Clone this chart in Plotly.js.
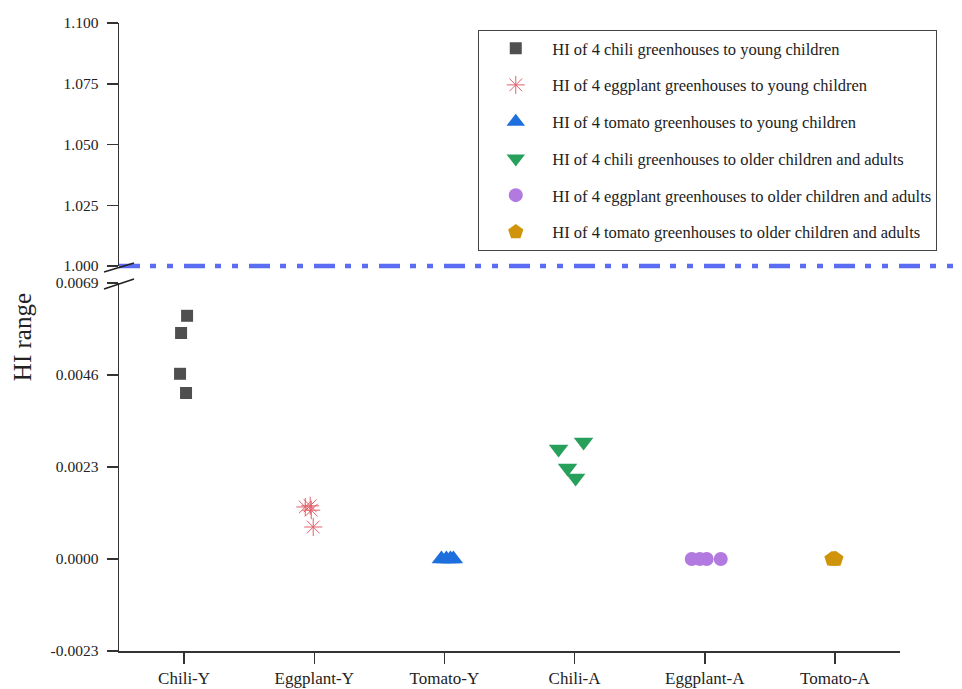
<!DOCTYPE html>
<html>
<head>
<meta charset="utf-8">
<script src="https://cdn.plot.ly/plotly-3.0.1.min.js"></script>
<style>html,body{margin:0;padding:0;background:#fff;}#chart{width:962px;height:689px;}</style>
</head>
<body>
<div id="chart"></div>
<script>
// Categories and tick labels
const categories = ['Chili-Y', 'Eggplant-Y', 'Tomato-Y', 'Chili-A', 'Eggplant-A', 'Tomato-A'];
const lowTickVals = [-0.0023, 0, 0.0023, 0.0046, 0.0069];
const lowTickText = ['-0.0023', '0.0000', '0.0023', '0.0046', '0.0069'];
const highTickVals = [1.000, 1.025, 1.050, 1.075, 1.100];
const thresholdHI = 1.0;

// HI values (4 greenhouses each) and horizontal scatter offsets within a category
const chiliY = [0.00608, 0.00565, 0.00463, 0.00415];
const chiliYOffset = [0.023, -0.023, -0.031, 0.015];
const eggplantY = [0.00133, 0.00130, 0.00122, 0.00080];
const eggplantYOffset = [-0.031, -0.069, -0.023, -0.008];
const tomatoY = [0.0, 0.0, 0.0, 0.0];
const tomatoYOffset = [-0.023, 0.015, 0.046, 0.069];
const chiliA = [0.002925, 0.00275, 0.002275, 0.002025];
const chiliAOffset = [0.069, -0.123, -0.054, 0.008];
const eggplantA = [0.0, 0.0, 0.0, 0.0];
const eggplantAOffset = [-0.1, -0.038, 0.015, 0.123];
const tomatoA = [0.0, 0.0, 0.0, 0.0];
const tomatoAOffset = [-0.023, -0.008, 0.0, 0.008];

const seriesNames = [
  'HI of 4 chili greenhouses to young children',
  'HI of 4 eggplant greenhouses to young children',
  'HI of 4 tomato greenhouses to young children',
  'HI of 4 chili greenhouses to older children and adults',
  'HI of 4 eggplant greenhouses to older children and adults',
  'HI of 4 tomato greenhouses to older children and adults'
];

const seriesData = [chiliY, eggplantY, tomatoY, chiliA, eggplantA, tomatoA];
const seriesOffsets = [chiliYOffset, eggplantYOffset, tomatoYOffset, chiliAOffset, eggplantAOffset, tomatoAOffset];
const styles = [
  {symbol: 'square', color: '#4f4f4f', size: 12},
  {symbol: 'asterisk-open', color: '#e0606a', size: 15},
  {symbol: 'triangle-up', color: '#1c6fdc', size: 17},
  {symbol: 'triangle-down', color: '#27a05c', size: 17},
  {symbol: 'circle', color: '#b27ae0', size: 14},
  {symbol: 'pentagon', color: '#cf940a', size: 16}
];

const traces = seriesData.map((vals, i) => ({
  type: 'scatter',
  mode: 'markers',
  name: seriesNames[i],
  legendgroup: 'g' + i,
  x: vals.map((v, j) => i + seriesOffsets[i][j]),
  y: vals,
  xaxis: 'x',
  yaxis: 'y',
  marker: {
    symbol: styles[i].symbol,
    color: styles[i].color,
    size: styles[i].size,
    line: {color: styles[i].color, width: i === 1 ? 1 : 0}
  },
  hoverinfo: 'x+y'
}));

// invisible trace to hold the upper (broken) axis
traces.push({type: 'scatter', mode: 'markers', x: [0], y: [thresholdHI + 0.05], xaxis: 'x2', yaxis: 'y2',
  marker: {opacity: 0}, showlegend: false, hoverinfo: 'skip'});

const serif = 'Liberation Serif, serif';
const axisFont = {family: serif, size: 15.5, color: '#222'};
const lowTop = 0.586, highBottom = 0.613;

const layout = {
  width: 962, height: 689,
  margin: {l: 119, r: 62, t: 23, b: 38},
  paper_bgcolor: '#fff', plot_bgcolor: '#fff',
  showlegend: true,
  legend: {
    x: 0.46, y: 0.989, xanchor: 'left', yanchor: 'top',
    bordercolor: '#444', borderwidth: 1, bgcolor: '#fff',
    font: {family: serif, size: 16.5, color: '#222'},
    tracegroupgap: 12.3, traceorder: 'grouped', itemwidth: 63
  },
  xaxis: {
    domain: [0, 1], anchor: 'y',
    range: [-0.5, 5.5],
    tickvals: categories.map((c, i) => i), ticktext: categories,
    showline: true, linecolor: '#333', linewidth: 1.5,
    ticks: 'outside', ticklen: 11, tickcolor: '#333', tickwidth: 1.5,
    ticklabelstandoff: 0,
    showgrid: false, zeroline: false,
    tickfont: {family: serif, size: 17, color: '#222'}
  },
  xaxis2: {
    domain: [0, 1], anchor: 'y2', matches: 'x', visible: false
  },
  yaxis: {
    domain: [0, lowTop], anchor: 'x',
    range: [lowTickVals[0], lowTickVals[lowTickVals.length - 1]],
    tickvals: lowTickVals, ticktext: lowTickText,
    showline: true, linecolor: '#333', linewidth: 1.5,
    ticks: 'outside', ticklen: 11, tickcolor: '#333', tickwidth: 1.5,
    ticklabelstandoff: 5,
    showgrid: false, zeroline: false,
    tickfont: axisFont
  },
  yaxis2: {
    domain: [highBottom, 1], anchor: 'x2',
    range: [highTickVals[0], highTickVals[highTickVals.length - 1]],
    tickvals: highTickVals, tickformat: '.3f',
    showline: true, linecolor: '#333', linewidth: 1.5,
    ticks: 'outside', ticklen: 11, tickcolor: '#333', tickwidth: 1.5,
    ticklabelstandoff: 5,
    showgrid: false, zeroline: false,
    tickfont: axisFont
  },
  shapes: [
    // HI = 1 threshold line (at the bottom of the upper axis, which starts at HI = 1)
    {type: 'line', xref: 'paper', yref: 'paper', x0: 0, x1: 1.08, y0: highBottom, y1: highBottom,
     line: {color: '#5a6cf2', width: 4.5, dash: '21px,10px,6px,11px,6px,11px'}, layer: 'above'},
    // axis break marks
    {type: 'line', xref: 'paper', yref: 'paper', xsizemode: 'pixel', xanchor: 0, ysizemode: 'pixel', yanchor: highBottom,
     x0: -15, x1: 15, y0: -6, y1: 3, line: {color: '#222', width: 1.5}},
    {type: 'line', xref: 'paper', yref: 'paper', xsizemode: 'pixel', xanchor: 0, ysizemode: 'pixel', yanchor: lowTop,
     x0: -15, x1: 15, y0: -6, y1: 4, line: {color: '#222', width: 1.5}}
  ],
  annotations: [
    {text: 'HI range', xref: 'paper', yref: 'paper', x: -0.124, y: 0.5, xanchor: 'center', yanchor: 'middle',
     textangle: -90, showarrow: false, font: {family: serif, size: 25, color: '#222'}}
  ]
};

Plotly.newPlot('chart', traces, layout, {displayModeBar: false, staticPlot: true});
</script>
</body>
</html>
